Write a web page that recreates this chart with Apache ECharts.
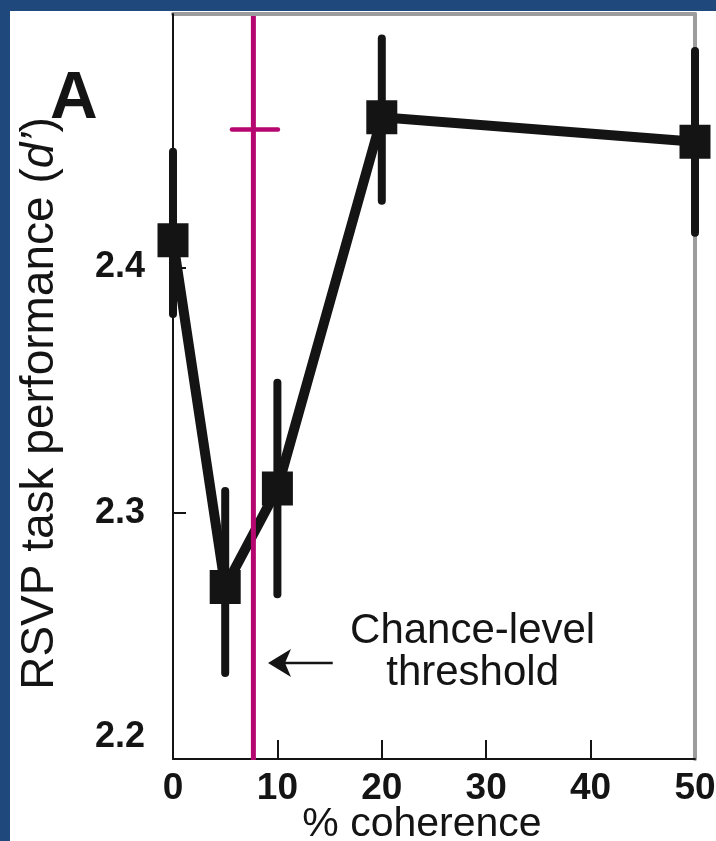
<!DOCTYPE html>
<html>
<head>
<meta charset="utf-8">
<script src="https://cdn.jsdelivr.net/npm/echarts@6/dist/echarts.min.js"></script>
<style>
html,body{margin:0;padding:0;background:#fff;overflow:hidden;}
#chart{width:716px;height:841px;}
</style>
</head>
<body>
<div id="chart"></div>
<script>
// ---- data ----
const coherence = [0, 5, 10, 20, 50];
const dprime    = [2.411, 2.270, 2.310, 2.461, 2.451];
const errLow    = [2.381, 2.235, 2.267, 2.427, 2.414];
const errHigh   = [2.447, 2.309, 2.353, 2.493, 2.488];
const thresholdX = [7.7];
const thresholdRange = [5.65, 10.05];
const thresholdMarkY = [2.456];
const xTickLabels = [0, 10, 20, 30, 40, 50];
const xTickMarks = [10, 20, 30, 40];
const yTickLabels = [2.2, 2.3, 2.4];
const yTickMarks = [2.3, 2.4];
const arrowTail = [15.3, 2.239];
const arrowHead = [9.1, 2.239];
const noteAt = [28.7, 2.2435];
const noteText = ['Chance-level', 'threshold'];

const BLUE = '#1f497d';
const INK = '#141414';
const MAGENTA = '#b5076f';
const GRAY = '#9c9c9c';
const TICK_FONT = '"Liberation Sans Narrow","Arial Narrow","Liberation Sans",Arial,sans-serif';
const TEXT_FONT = '"Liberation Sans",Arial,Helvetica,sans-serif';

const chart = echarts.init(document.getElementById('chart'), null, {renderer: 'canvas'});

const points = coherence.map((x, i) => [x, dprime[i]]);
const bars = coherence.map((x, i) => [x, errLow[i], errHigh[i]]);

const option = {
  backgroundColor: '#fff',
  animation: false,
  grid: {left: 173, right: 21, top: 14, bottom: 82, containLabel: false, outerBoundsMode: 'none'},
  xAxis: [{
    type: 'value', min: 0, max: 50, interval: 10, position: 'bottom', z: 5,
    name: '% coherence', nameLocation: 'middle', nameGap: 45, nameMoveOverlap: false,
    nameTextStyle: {fontFamily: TEXT_FONT, fontSize: 41, color: INK, padding: [0, 24, 0, 0]},
    axisLine: {show: true, onZero: false, lineStyle: {color: INK, width: 2}},
    axisTick: {show: true, inside: true, length: 19, lineStyle: {color: INK, width: 2}, customValues: xTickMarks},
    axisLabel: {show: true, margin: 11, fontFamily: TICK_FONT, fontWeight: 'bold', fontSize: 37, color: INK, customValues: xTickLabels},
    splitLine: {show: false}
  }, {
    type: 'value', min: 0, max: 50, position: 'top', z: 1,
    axisLine: {show: true, onZero: false, lineStyle: {color: GRAY, width: 4}},
    axisTick: {show: false}, axisLabel: {show: false}, splitLine: {show: false}
  }],
  yAxis: [{
    type: 'value', min: 2.2, max: 2.503, position: 'left', z: 5,
    name: 'RSVP task performance ({i|d\u2019})', nameLocation: 'middle', nameGap: 110, nameMoveOverlap: false,
    nameTextStyle: {fontFamily: TEXT_FONT, fontSize: 46, color: INK, padding: [0, 34, 0, 0],
      rich: {i: {fontFamily: TEXT_FONT, fontSize: 46, fontStyle: 'italic', color: INK}}},
    axisLine: {show: true, onZero: false, lineStyle: {color: INK, width: 2}},
    axisTick: {show: true, inside: true, length: 13, lineStyle: {color: INK, width: 2}, customValues: yTickMarks},
    axisLabel: {show: true, margin: 28, fontFamily: TICK_FONT, fontWeight: 'bold', fontSize: 36, color: INK,
      customValues: yTickLabels,
      formatter: v => (Math.abs(v - 2.2) < 1e-6 ? '{lift|2.2}' : '{n|' + v.toFixed(1) + '}'),
      rich: {
        lift: {fontFamily: TICK_FONT, fontWeight: 'bold', fontSize: 36, color: INK, padding: [0, 0, 44, 0]},
        n: {fontFamily: TICK_FONT, fontWeight: 'bold', fontSize: 36, color: INK}
      }},
    splitLine: {show: false}
  }, {
    type: 'value', min: 2.2, max: 2.503, position: 'right', z: 1,
    axisLine: {show: true, onZero: false, lineStyle: {color: GRAY, width: 4}},
    axisTick: {show: false}, axisLabel: {show: false}, splitLine: {show: false}
  }],
  graphic: [
    {type: 'rect', left: 0, top: 0, shape: {width: 10, height: 841}, style: {fill: BLUE}, z: 100},
    {type: 'rect', left: 0, top: 0, shape: {width: 716, height: 11}, style: {fill: BLUE}, z: 100},
    {type: 'text', left: 50, top: 67, style: {text: 'A', font: 'bold 66px ' + TEXT_FONT, fill: INK}, z: 100}
  ],
  series: [
    {
      name: 'errorbars', type: 'custom', z: 3,
      data: bars,
      renderItem: (params, api) => {
        const x = api.value(0);
        const lo = api.coord([x, api.value(1)]);
        const hi = api.coord([x, api.value(2)]);
        return {type: 'line', shape: {x1: lo[0], y1: lo[1], x2: hi[0], y2: hi[1]},
          style: {stroke: INK, lineWidth: 8, lineCap: 'round'}};
      }
    },
    {
      name: 'd prime', type: 'line', z: 4, data: points, symbol: 'none',
      lineStyle: {color: INK, width: 10, join: 'miter'}
    },
    {
      name: 'markers', type: 'scatter', z: 5, data: points, symbol: 'rect', symbolSize: [31, 34],
      itemStyle: {color: INK, opacity: 1}
    },
    {
      name: 'threshold', type: 'custom', z: 6,
      data: [[thresholdX[0], thresholdRange[0], thresholdRange[1], thresholdMarkY[0]]],
      renderItem: (params, api) => {
        const y = api.value(3);
        const a = api.coord([api.value(1), y]);
        const b = api.coord([api.value(2), y]);
        const top = api.coord([api.value(0), 2.503]);
        const bot = api.coord([api.value(0), 2.2]);
        return {type: 'group', children: [
          {type: 'line', shape: {x1: top[0], y1: top[1] + 2, x2: bot[0], y2: bot[1] + 1},
            style: {stroke: MAGENTA, lineWidth: 5}},
          {type: 'line', shape: {x1: a[0], y1: a[1], x2: b[0], y2: b[1]},
            style: {stroke: MAGENTA, lineWidth: 4.5, lineCap: 'round'}}
        ]};
      }
    },
    {
      name: 'annotation', type: 'custom', z: 6,
      data: [[arrowTail[0], arrowTail[1], arrowHead[0], arrowHead[1], noteAt[0], noteAt[1]]],
      renderItem: (params, api) => {
        const t = api.coord([api.value(0), api.value(1)]);
        const h = api.coord([api.value(2), api.value(3)]);
        const n = api.coord([api.value(4), api.value(5)]);
        return {type: 'group', children: [
          {type: 'line', shape: {x1: t[0], y1: t[1], x2: h[0] + 14, y2: h[1]},
            style: {stroke: INK, lineWidth: 2.5}},
          {type: 'polygon', shape: {points: [[h[0], h[1]], [h[0] + 23, h[1] - 14], [h[0] + 17, h[1]], [h[0] + 23, h[1] + 14]]},
            style: {fill: INK}},
          {type: 'text', x: n[0], y: n[1],
            style: {text: noteText.join('\n'), font: '42px ' + TEXT_FONT, fill: INK,
              align: 'center', verticalAlign: 'middle', lineHeight: 42}}
        ]};
      }
    }
  ]
};
chart.setOption(option);
</script>
</body>
</html>
